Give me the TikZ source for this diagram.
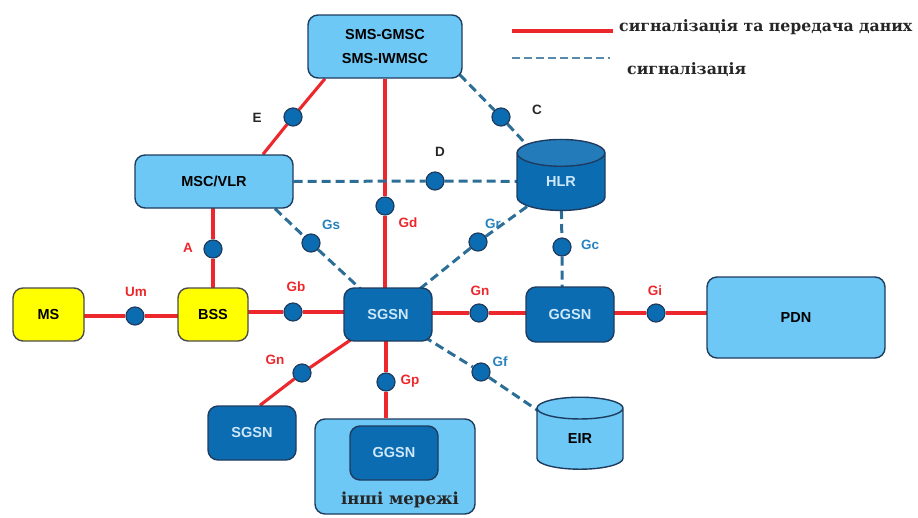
\documentclass[tikz,border=0pt]{standalone}
\usepackage{fontspec}
\setmainfont{DejaVu Serif}
\newfontfamily\labfont{Liberation Sans}
\usepackage{xcolor}
\usepackage{tikz}
\usetikzlibrary{shapes.geometric}
\pgfdeclarelayer{background}
\pgfsetlayers{background,main}
\definecolor{skyfill}{RGB}{110,200,245}
\definecolor{deepfill}{RGB}{12,108,178}
\definecolor{edgenavy}{RGB}{30,60,95}
\definecolor{datared}{RGB}{236,40,44}
\definecolor{sigblue}{RGB}{45,110,150}
\definecolor{paletext}{RGB}{205,232,250}
\definecolor{labblue}{RGB}{40,130,190}
\definecolor{boxyellow}{RGB}{255,255,0}

\begin{document}
\begin{tikzpicture}[x=1pt,y=-1pt]
\tikzstyle{every node}+=[inner sep=0pt]
\tikzstyle{unit}=[draw=edgenavy, line width=1.4pt, rounded corners=10pt, align=center,
  font=\labfont\bfseries\fontsize{14.5}{16}\selectfont]
\tikzstyle{skyunit}=[unit, fill=skyfill, text=black]
\tikzstyle{deepunit}=[unit, fill=deepfill, text=paletext]
\tikzstyle{msunit}=[unit, fill=boxyellow, draw=black!70]
\tikzstyle{store}=[cylinder, shape border rotate=90, aspect=0.9, draw=edgenavy, line width=1.4pt,
  cylinder uses custom fill, font=\labfont\bfseries\fontsize{14.5}{16}\selectfont]
\tikzstyle{port}=[circle, fill=deepfill, draw=edgenavy, line width=1.2pt, minimum size=18pt]
\tikzstyle{data}=[datared, line width=3.1pt]
\tikzstyle{sig}=[sigblue, line width=3pt, dash pattern=on 9pt off 5pt]
\tikzstyle{lab}=[font=\labfont\bfseries\fontsize{13.5}{13.5}\selectfont]
\tikzstyle{redlab}=[lab, text=datared]
\tikzstyle{bluelab}=[lab, text=labblue]
\tikzstyle{blacklab}=[lab, text=black!85]
\tikzstyle{keytext}=[font=\bfseries\fontsize{15.7}{15.7}\selectfont, text=black!85]
\useasboundingbox (0,0) rectangle (918,517);

\node[skyunit, minimum width=154pt, minimum height=63pt] (sms) at (385,46.5) {SMS-GMSC\\[8pt]SMS-IWMSC};
\node[skyunit, minimum width=158pt, minimum height=53pt] (msc) at (214,181.5) {MSC/VLR};
\node[msunit, minimum width=71pt, minimum height=53pt] (ms) at (48.5,314.5) {MS};
\node[msunit, minimum width=70pt, minimum height=53pt] (bss) at (213,314.5) {BSS};
\node[deepunit, minimum width=88pt, minimum height=53pt] (sgsn) at (388,314.5) {SGSN};
\node[deepunit, minimum width=88pt, minimum height=54pt] (sgsnb) at (252,433) {SGSN};
\node[skyunit, minimum width=160pt, minimum height=95pt] (net) at (395,466.5) {};
\node[deepunit, minimum width=88pt, minimum height=54pt] (ggsnb) at (394,453) {GGSN};
\node[keytext, font=\bfseries\fontsize{16.5}{16.5}\selectfont] (netname) at (400,500) {інші мережі};
\node[deepunit, minimum width=88pt, minimum height=55pt] (ggsn) at (570,314.5) {GGSN};
\node[skyunit, minimum width=178pt, minimum height=81pt] (pdn) at (796,317.5) {PDN};
\node[store, minimum width=88pt, minimum height=71pt, cylinder end fill=deepfill!90,
  cylinder body fill=deepfill, text=paletext] (hlr) at (561,182) {HLR};
\node[store, minimum width=86pt, minimum height=72pt, cylinder end fill=skyfill,
  cylinder body fill=skyfill] (eir) at (580,439) {EIR};

\node[port] (e) at (293,117) {};
\node[port] (c) at (501,117) {};
\node[port] (d) at (435,181) {};
\node[port] (gd) at (385,206) {};
\node[port] (gs) at (311,243) {};
\node[port] (a) at (213,249) {};
\node[port] (gr) at (478,242) {};
\node[port] (gc) at (562,247) {};
\node[port] (um) at (135,316) {};
\node[port] (gb) at (293,312) {};
\node[port] (gn) at (479,313) {};
\node[port] (gi) at (656,313) {};
\node[port] (gnb) at (302,373) {};
\node[port] (gp) at (386,382) {};
\node[port] (gf) at (481,372) {};

\node[blacklab] (le) at (257,118) {E};
\node[blacklab] (lc) at (537,110) {C};
\node[blacklab] (ld) at (440,152) {D};
\node[redlab] (lgd) at (408,223) {Gd};
\node[bluelab] (lgs) at (331,225) {Gs};
\node[redlab] (la) at (188,248) {A};
\node[bluelab] (lgr) at (493,224) {Gr};
\node[bluelab] (lgc) at (590,245) {Gc};
\node[redlab] (lum) at (136,292) {Um};
\node[redlab] (lgb) at (296,287) {Gb};
\node[redlab] (lgn) at (480,291) {Gn};
\node[redlab] (lgi) at (655,291) {Gi};
\node[redlab] (lgnb) at (275,360) {Gn};
\node[redlab] (lgp) at (410,381) {Gp};
\node[bluelab] (lgf) at (500,362) {Gf};

\begin{pgfonlayer}{background}
\draw[data] ([xshift=49pt]msc.north) -- (e) -- ([xshift=-60pt]sms.south);
\draw[data] (sms.south) -- (gd) -- (sms.south |- sgsn.center);
\draw[sig] ([xshift=-3pt,yshift=4pt]sms.south east) -- (c) -- (hlr.center);
\draw[sig] (msc.east) -- (d) -- (msc.east -| hlr.center);
\draw[sig] ([xshift=61pt]msc.south) -- (gs) -- (sgsn.center);
\draw[sig] (hlr.center) -- (gr) -- (sgsn.center);
\draw[sig] (hlr.center) -- (gc) -- (gc |- ggsn.center);
\draw[data] (bss.center) -- (a) -- (a |- msc.center);
\draw[data] (ms.center |- um) -- (um) -- (bss.center |- um);
\draw[data] (bss.center |- gb) -- (gb) -- (sgsn.center |- gb);
\draw[data] (sgsn.center |- gn) -- (gn) -- (ggsn.center |- gn);
\draw[data] (ggsn.center |- gi) -- (gi) -- (pdn.center |- gi);
\draw[data] (sgsn.center) -- (gnb) -- ([xshift=8pt]sgsnb.north);
\draw[data] (sgsn.center -| gp) -- (gp) -- (gp |- net.north);
\draw[sig] (sgsn.center) -- (gf) -- (eir.center);
\end{pgfonlayer}

\coordinate (redstart) at (512,31);
\coordinate (redend) at (613,31);
\coordinate (bluestart) at (512,58);
\coordinate (blueend) at (610,58);
\draw[datared, line width=3.2pt] (redstart) -- (redend);
\draw[sigblue!80, line width=2.8pt, dash pattern=on 8pt off 4pt] (bluestart) -- (blueend);
\node[keytext, anchor=west] (keydata) at (619,27) {сигналізація та передача даних};
\node[keytext, anchor=west] (keysig) at (627,70) {сигналізація};
\end{tikzpicture}
\end{document}
